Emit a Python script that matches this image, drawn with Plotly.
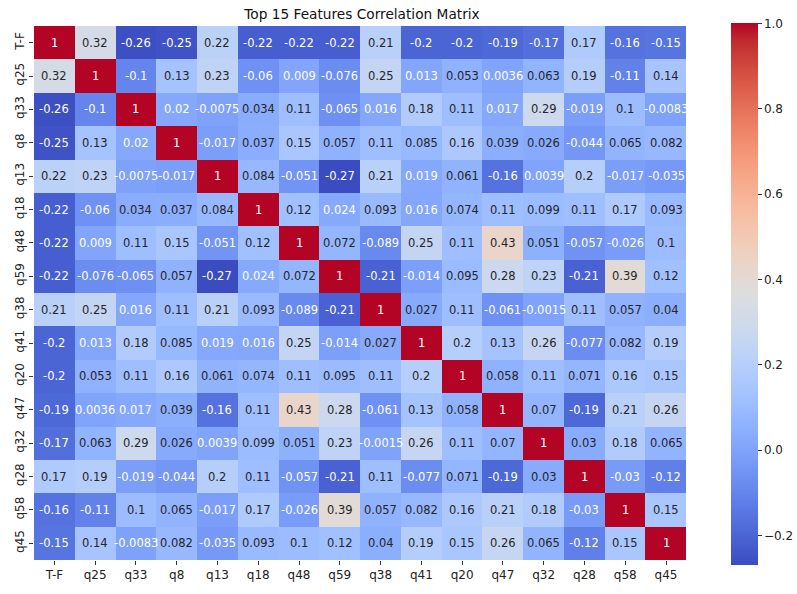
import plotly.graph_objects as go

# Feature order used for both axes
features = ["T-F", "q25", "q33", "q8", "q13", "q18", "q48", "q59",
            "q38", "q41", "q20", "q47", "q32", "q28", "q58", "q45"]

# Correlation matrix rows (one list per feature)
row_tf  = [1, 0.32, -0.26, -0.25, 0.22, -0.22, -0.22, -0.22, 0.21, -0.2, -0.2, -0.19, -0.17, 0.17, -0.16, -0.15]
row_q25 = [0.32, 1, -0.1, 0.13, 0.23, -0.06, 0.009, -0.076, 0.25, 0.013, 0.053, 0.0036, 0.063, 0.19, -0.11, 0.14]
row_q33 = [-0.26, -0.1, 1, 0.02, -0.0075, 0.034, 0.11, -0.065, 0.016, 0.18, 0.11, 0.017, 0.29, -0.019, 0.1, -0.0083]
row_q8  = [-0.25, 0.13, 0.02, 1, -0.017, 0.037, 0.15, 0.057, 0.11, 0.085, 0.16, 0.039, 0.026, -0.044, 0.065, 0.082]
row_q13 = [0.22, 0.23, -0.0075, -0.017, 1, 0.084, -0.051, -0.27, 0.21, 0.019, 0.061, -0.16, 0.0039, 0.2, -0.017, -0.035]
row_q18 = [-0.22, -0.06, 0.034, 0.037, 0.084, 1, 0.12, 0.024, 0.093, 0.016, 0.074, 0.11, 0.099, 0.11, 0.17, 0.093]
row_q48 = [-0.22, 0.009, 0.11, 0.15, -0.051, 0.12, 1, 0.072, -0.089, 0.25, 0.11, 0.43, 0.051, -0.057, -0.026, 0.1]
row_q59 = [-0.22, -0.076, -0.065, 0.057, -0.27, 0.024, 0.072, 1, -0.21, -0.014, 0.095, 0.28, 0.23, -0.21, 0.39, 0.12]
row_q38 = [0.21, 0.25, 0.016, 0.11, 0.21, 0.093, -0.089, -0.21, 1, 0.027, 0.11, -0.061, -0.0015, 0.11, 0.057, 0.04]
row_q41 = [-0.2, 0.013, 0.18, 0.085, 0.019, 0.016, 0.25, -0.014, 0.027, 1, 0.2, 0.13, 0.26, -0.077, 0.082, 0.19]
row_q20 = [-0.2, 0.053, 0.11, 0.16, 0.061, 0.074, 0.11, 0.095, 0.11, 0.2, 1, 0.058, 0.11, 0.071, 0.16, 0.15]
row_q47 = [-0.19, 0.0036, 0.017, 0.039, -0.16, 0.11, 0.43, 0.28, -0.061, 0.13, 0.058, 1, 0.07, -0.19, 0.21, 0.26]
row_q32 = [-0.17, 0.063, 0.29, 0.026, 0.0039, 0.099, 0.051, 0.23, -0.0015, 0.26, 0.11, 0.07, 1, 0.03, 0.18, 0.065]
row_q28 = [0.17, 0.19, -0.019, -0.044, 0.2, 0.11, -0.057, -0.21, 0.11, -0.077, 0.071, -0.19, 0.03, 1, -0.03, -0.12]
row_q58 = [-0.16, -0.11, 0.1, 0.065, -0.017, 0.17, -0.026, 0.39, 0.057, 0.082, 0.16, 0.21, 0.18, -0.03, 1, 0.15]
row_q45 = [-0.15, 0.14, -0.0083, 0.082, -0.035, 0.093, 0.1, 0.12, 0.04, 0.19, 0.15, 0.26, 0.065, -0.12, 0.15, 1]

corr = [row_tf, row_q25, row_q33, row_q8, row_q13, row_q18, row_q48, row_q59,
        row_q38, row_q41, row_q20, row_q47, row_q32, row_q28, row_q58, row_q45]

colorbar_ticks = [-0.2, 0.0, 0.2, 0.4, 0.6, 0.8, 1.0]

# Diverging blue-white-red colour map (Moreland "cool to warm")
coolwarm_rgb = [
    (59, 76, 192), (68, 90, 204), (77, 104, 215), (87, 117, 225), (98, 130, 234),
    (108, 142, 241), (119, 154, 247), (130, 165, 251), (141, 176, 254), (152, 185, 255),
    (163, 194, 255), (174, 201, 253), (184, 208, 249), (194, 213, 244), (204, 217, 238),
    (213, 219, 230), (221, 221, 221), (229, 216, 209), (236, 211, 197), (241, 204, 184),
    (245, 196, 172), (247, 187, 160), (247, 177, 148), (247, 166, 135), (244, 154, 123),
    (241, 141, 111), (236, 127, 99), (229, 112, 88), (222, 96, 77), (213, 80, 66),
    (203, 62, 56), (192, 40, 47), (180, 4, 38),
]
n = len(coolwarm_rgb) - 1
colorscale = [[i / n, "rgb(%d,%d,%d)" % c] for i, c in enumerate(coolwarm_rgb)]

zmin = min(min(r) for r in corr)
zmax = max(max(r) for r in corr)


def color_at(v):
    t = (v - zmin) / (zmax - zmin)
    t = min(max(t, 0.0), 1.0)
    pos = t * n
    i = min(int(pos), n - 1)
    f = pos - i
    a, b = coolwarm_rgb[i], coolwarm_rgb[i + 1]
    return tuple(a[k] + (b[k] - a[k]) * f for k in range(3))


def luminance(rgb):
    out = []
    for c in rgb:
        c = c / 255.0
        out.append(c / 12.92 if c <= 0.03928 else ((c + 0.055) / 1.055) ** 2.4)
    return 0.2126 * out[0] + 0.7152 * out[1] + 0.0722 * out[2]


W, H = 797, 594
L, R, T, B = 34, 107, 26, 26

fig = go.Figure(
    go.Heatmap(
        z=corr, x=features, y=features,
        colorscale=colorscale, zmin=zmin, zmax=zmax,
        xgap=0, ygap=0,
        hoverinfo="skip",
        colorbar=dict(
            thickness=27, lenmode="pixels", len=H - T - B,
            xref="container", x=731 / W, xanchor="left", xpad=0,
            yref="container", y=(H - T) / H, yanchor="top", ypad=0,
            outlinewidth=0,
            tickvals=colorbar_ticks, tickformat=".1f",
            ticks="outside", ticklen=4, tickwidth=1, tickcolor="#333",
            tickfont=dict(family="DejaVu Sans", size=12, color="#222"),
        ),
    )
)

# Cell annotations, coloured by the brightness of the cell underneath
annotations = []
for i, ylab in enumerate(features):
    for j, xlab in enumerate(features):
        v = corr[i][j]
        txt_color = "#262626" if luminance(color_at(v)) > 0.408 else "#ffffff"
        annotations.append(dict(
            x=xlab, y=ylab, xref="x", yref="y", text=format(v, ".2g"),
            showarrow=False,
            font=dict(family="DejaVu Sans", size=11.5, color=txt_color),
        ))

fig.update_layout(
    width=W, height=H,
    margin=dict(l=L, r=R, t=T, b=B),
    paper_bgcolor="white", plot_bgcolor="white",
    annotations=annotations,
    title=dict(
        text="Top 15 Features Correlation Matrix",
        x=0.5, xref="paper", xanchor="center",
        y=(H - 14) / H, yref="container", yanchor="middle",
        font=dict(family="DejaVu Sans", size=13.7, color="#111"),
    ),
)
fig.update_xaxes(
    showgrid=False, zeroline=False, showline=False,
    ticks="outside", ticklen=4, tickwidth=1, tickcolor="#333",
    tickfont=dict(family="DejaVu Sans", size=12, color="#222"),
    tickangle=0,
)
fig.update_yaxes(
    showgrid=False, zeroline=False, showline=False,
    autorange="reversed",
    ticks="outside", ticklen=4, tickwidth=1, tickcolor="#333",
    tickfont=dict(family="DejaVu Sans", size=12, color="#222"),
    tickangle=-90,
)

fig.write_html("out.html")
